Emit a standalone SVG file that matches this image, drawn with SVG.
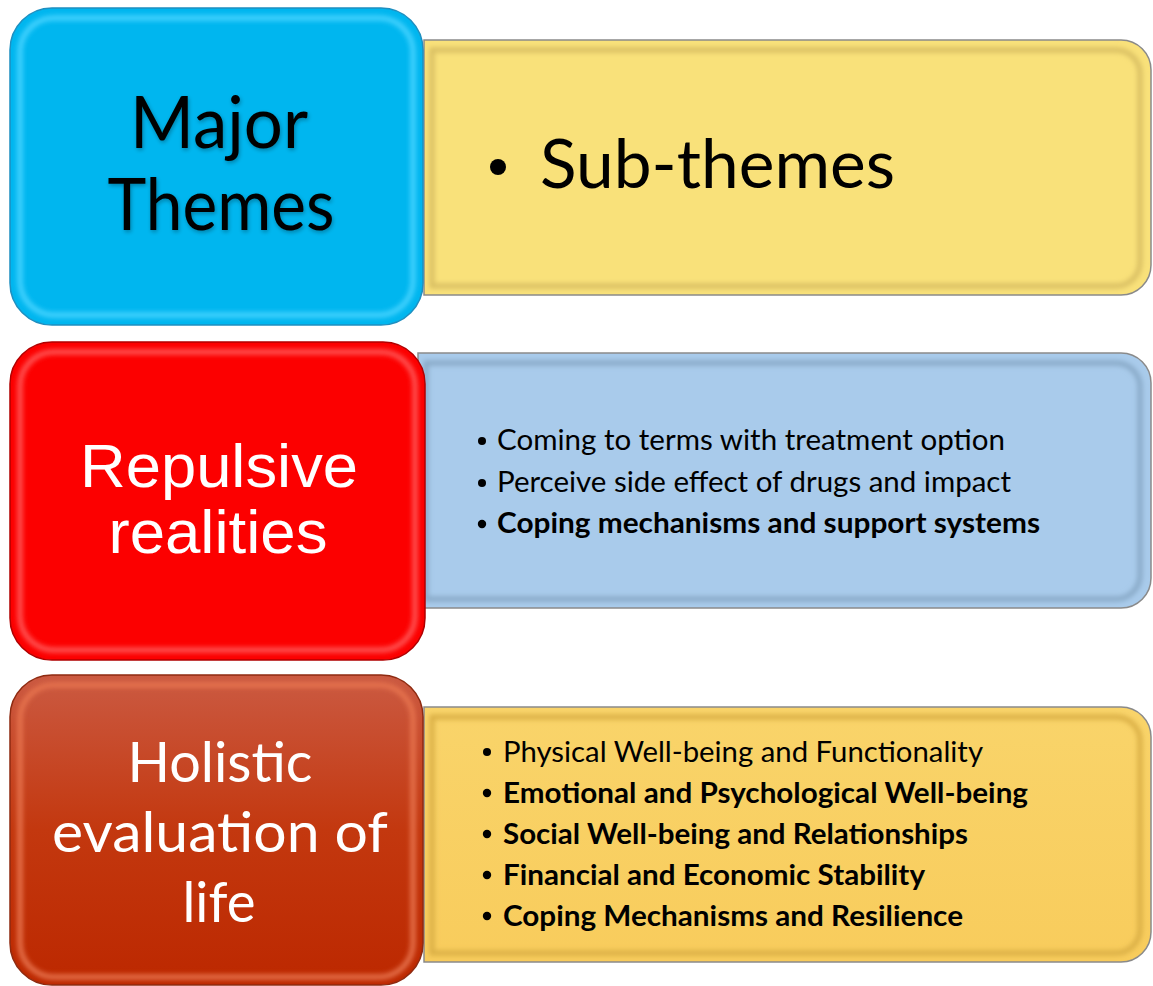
<svg xmlns="http://www.w3.org/2000/svg" width="1153" height="986" viewBox="0 0 1153 986">
  <defs>
    <style>
      .cal { font-family: Lato, "Open Sans", "Noto Sans", sans-serif; }
      .ari { font-family: "Liberation Sans", Arial, sans-serif; }
      .head-dark { fill: #000; font-size: 72px; }
      .head-light { fill: #fff; }
      .item { fill: #000; font-size: 29px; }
      .bold { font-weight: bold; }
      .edge { fill: none; stroke: #8a8a8a; stroke-width: 1.5; }
      .soft { filter: url(#soft); }
    </style>
    <filter id="soft" x="-5%" y="-5%" width="110%" height="110%">
      <feGaussianBlur stdDeviation="2.5"/>
    </filter>
    <filter id="txtShadow" x="-10%" y="-10%" width="120%" height="130%">
      <feGaussianBlur in="SourceAlpha" stdDeviation="2"/>
      <feOffset dx="1" dy="1.5" result="b"/>
      <feComponentTransfer in="b" result="s"><feFuncA type="linear" slope="0.3"/></feComponentTransfer>
      <feMerge><feMergeNode in="s"/><feMergeNode in="SourceGraphic"/></feMerge>
    </filter>
    <linearGradient id="brownFill" x1="0" y1="0" x2="0" y2="1">
      <stop offset="0" stop-color="#CB5A42"/>
      <stop offset="0.5" stop-color="#C3380F"/>
      <stop offset="1" stop-color="#BC2800"/>
    </linearGradient>
    <linearGradient id="yellowFill2" x1="0" y1="0" x2="0" y2="1">
      <stop offset="0" stop-color="#F9D46A"/>
      <stop offset="1" stop-color="#F8CC5C"/>
    </linearGradient>
  </defs>

  <rect width="1153" height="986" fill="#fff"/>

  <!-- sub-theme panels (square left side, rounded right side) -->
  <g id="panel-subthemes">
    <path d="M424,40 H1121 A30,30 0 0 1 1151,70 V265 A30,30 0 0 1 1121,295 H424 Z" fill="#F9E17A"/>
    <path class="soft" d="M432,50 H1116 A24,24 0 0 1 1140,74 V262 A24,24 0 0 1 1116,286 H432 Z" fill="none" stroke="#D8BE62" stroke-width="5"/>
    <path class="soft" d="M436,282 H1118" stroke="#FFF7D8" stroke-width="4" fill="none"/>
    <path class="soft" d="M436,48 H1118" stroke="#FFF4C8" stroke-width="3" fill="none"/>
    <path class="edge" d="M424,40 H1121 A30,30 0 0 1 1151,70 V265 A30,30 0 0 1 1121,295 H424 Z"/>
    <circle cx="498" cy="167" r="8" fill="#000"/>
    <text class="cal" x="540" y="188" font-size="68" fill="#000" textLength="355" lengthAdjust="spacingAndGlyphs">Sub-themes</text>
  </g>

  <g id="panel-repulsive">
    <path d="M418,353 H1121 A30,30 0 0 1 1151,383 V578 A30,30 0 0 1 1121,608 H418 Z" fill="#A9CBEB"/>
    <path class="soft" d="M426,363 H1116 A24,24 0 0 1 1140,387 V575 A24,24 0 0 1 1116,599 H426 Z" fill="none" stroke="#87A8C6" stroke-width="5"/>
    <path class="soft" d="M430,595 H1118" stroke="#EEF5FC" stroke-width="4" fill="none"/>
    <path class="soft" d="M430,361 H1118" stroke="#E6F0FA" stroke-width="3" fill="none"/>
    <path class="edge" d="M418,353 H1121 A30,30 0 0 1 1151,383 V578 A30,30 0 0 1 1121,608 H418 Z"/>
    <circle cx="482" cy="441" r="4" fill="#000"/>
    <circle cx="482" cy="483" r="4" fill="#000"/>
    <circle cx="482" cy="524" r="4.2" fill="#000"/>
    <text class="cal item" x="497" y="450" textLength="508" lengthAdjust="spacingAndGlyphs">Coming to terms with treatment option</text>
    <text class="cal item" x="497" y="492" textLength="514" lengthAdjust="spacingAndGlyphs">Perceive side effect of drugs and impact</text>
    <text class="cal item bold" x="497" y="533" textLength="543" lengthAdjust="spacingAndGlyphs">Coping mechanisms and support systems</text>
  </g>

  <g id="panel-holistic">
    <path d="M424,707 H1121 A30,30 0 0 1 1151,737 V932 A30,30 0 0 1 1121,962 H424 Z" fill="url(#yellowFill2)"/>
    <path class="soft" d="M432,717 H1116 A24,24 0 0 1 1140,741 V929 A24,24 0 0 1 1116,953 H432 Z" fill="none" stroke="#D9AE45" stroke-width="5"/>
    <path class="soft" d="M436,949 H1118" stroke="#FFF2CF" stroke-width="4" fill="none"/>
    <path class="soft" d="M436,715 H1118" stroke="#FCE6A6" stroke-width="3" fill="none"/>
    <path class="edge" d="M424,707 H1121 A30,30 0 0 1 1151,737 V932 A30,30 0 0 1 1121,962 H424 Z"/>
    <circle cx="487" cy="752" r="4" fill="#000"/>
    <circle cx="487" cy="793" r="4.2" fill="#000"/>
    <circle cx="487" cy="834" r="4.2" fill="#000"/>
    <circle cx="487" cy="875" r="4.2" fill="#000"/>
    <circle cx="487" cy="916" r="4.2" fill="#000"/>
    <text class="cal item" x="503" y="762" textLength="480" lengthAdjust="spacingAndGlyphs">Physical Well-being and Functionality</text>
    <text class="cal item bold" x="503" y="803" textLength="525" lengthAdjust="spacingAndGlyphs">Emotional and Psychological Well-being</text>
    <text class="cal item bold" x="503" y="844" textLength="465" lengthAdjust="spacingAndGlyphs">Social Well-being and Relationships</text>
    <text class="cal item bold" x="503" y="885" textLength="422" lengthAdjust="spacingAndGlyphs">Financial and Economic Stability</text>
    <text class="cal item bold" x="503" y="926" textLength="460" lengthAdjust="spacingAndGlyphs">Coping Mechanisms and Resilience</text>
  </g>

  <!-- major theme tiles -->
  <g id="tile-major">
    <rect x="10" y="8" width="413" height="317" rx="42" fill="#00B6EF"/>
    <rect class="soft" x="20" y="18" width="393" height="297" rx="34" fill="none" stroke="#48D4FF" stroke-width="5"/>
    <rect x="10" y="8" width="413" height="317" rx="42" fill="none" stroke="#1E8FC0" stroke-width="1.5"/>
    <g filter="url(#txtShadow)">
      <text class="cal head-dark" x="219" y="148" text-anchor="middle" textLength="178" lengthAdjust="spacingAndGlyphs">Major</text>
      <text class="cal head-dark" x="221" y="230" text-anchor="middle" textLength="227" lengthAdjust="spacingAndGlyphs">Themes</text>
    </g>
  </g>

  <g id="tile-repulsive">
    <rect x="10" y="342" width="415" height="318" rx="42" fill="#FC0000"/>
    <rect class="soft" x="20" y="352" width="395" height="298" rx="34" fill="none" stroke="#FF5A5A" stroke-width="5"/>
    <rect x="10" y="342" width="415" height="318" rx="42" fill="none" stroke="#B00000" stroke-width="1.5"/>
    <text class="ari head-light" x="219" y="487" font-size="62" text-anchor="middle" textLength="278" lengthAdjust="spacingAndGlyphs">Repulsive</text>
    <text class="ari head-light" x="218" y="553" font-size="62" text-anchor="middle" textLength="219" lengthAdjust="spacingAndGlyphs">realities</text>
  </g>

  <g id="tile-holistic">
    <rect x="10" y="675" width="413" height="310" rx="42" fill="url(#brownFill)"/>
    <rect class="soft" x="20" y="685" width="393" height="292" rx="34" fill="none" stroke="#E8754F" stroke-width="5"/>
    <rect x="10" y="675" width="413" height="310" rx="42" fill="none" stroke="#8E2A10" stroke-width="1.5"/>
    <text class="cal head-light" x="220" y="782" font-size="57" text-anchor="middle" textLength="185" lengthAdjust="spacingAndGlyphs">Holistic</text>
    <text class="cal head-light" x="220" y="852" font-size="57" text-anchor="middle" textLength="336" lengthAdjust="spacingAndGlyphs">evaluation of</text>
    <text class="cal head-light" x="219" y="922" font-size="57" text-anchor="middle" textLength="73" lengthAdjust="spacingAndGlyphs">life</text>
  </g>

  <g id="connectors"></g>
</svg>
